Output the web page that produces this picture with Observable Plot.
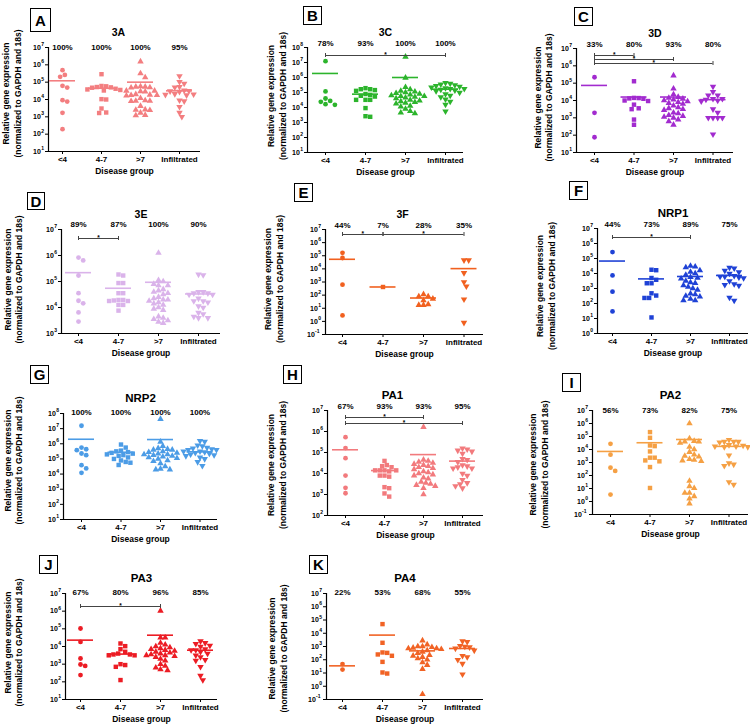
<!DOCTYPE html>
<html><head><meta charset="utf-8">
<script src="https://cdn.jsdelivr.net/npm/d3@7"></script>
<script src="https://cdn.jsdelivr.net/npm/@observablehq/plot@0.6"></script>
<style>
body{margin:0;background:#fff;}
#root{position:relative;width:750px;height:724px;overflow:hidden;font-family:"Liberation Sans",Arial,sans-serif;background:#fff;}
.panel{position:absolute;}
.panel svg{overflow:visible;}
.tag{position:absolute;border:1.3px solid #000;font:bold 15px "Liberation Sans",Arial,sans-serif;display:flex;align-items:center;justify-content:center;box-sizing:border-box;color:#000;background:#fff;}
</style></head><body><div id="root"></div>
<script>
// ---------- shared labels ----------
const CATS = ["<4", "4-7", ">7", "Infiltrated"];
const Y_LABEL = "Relative gene expression\n(normalized to GAPDH and 18s)";
const X_LABEL = "Disease group";

// ---------- data (log10 of relative expression) ----------
// A — 3A
const a_lt4 = [5.69, 5.42, 5.31, 4.79, 4.69, 3.96, 3.88, 3.23, 2.29];
const a_4to7 = [5.46, 4.78, 4.76, 4.72, 4.70, 4.68, 4.62, 4.58, 4.55, 4.52, 4.02, 4.00, 3.48, 3.25, 3.22];
const a_gt7 = [6.19, 5.5, 5.27, 4.75, 4.73, 4.73, 4.70, 4.68, 4.5, 4.5, 4.47, 4.45, 4.3, 4.27, 4.25, 4.25, 4.22, 4.08, 3.95, 3.92, 3.92, 3.9, 3.62, 3.42, 3.4, 3.38, 3.23, 3.1, 3.08];
const a_inf = [5.35, 5.02, 4.92, 4.73, 4.70, 4.52, 4.5, 4.48, 4.45, 4.32, 4.3, 4.28, 4.25, 3.95, 3.9, 3.58, 3.25, 3.0];
const a_mean = [5.08, 4.65, 5.0, 4.5];
const a_pct = ["100%", "100%", "100%", "95%"];
const a_sig = [];

// B — 3C
const b_lt4 = [7.09, 5.07, 4.6, 4.44, 4.38, 4.22, 4.18];
const b_4to7 = [5.29, 5.22, 5.22, 5.16, 5.11, 4.9, 4.84, 4.78, 4.73, 4.51, 4.51, 4.51, 3.96, 3.42, 3.38];
const b_gt7 = [7.38, 5.98, 5.35, 5.2, 5.1, 5.05, 5.0, 4.95, 4.9, 4.85, 4.8, 4.75, 4.75, 4.7, 4.65, 4.6, 4.5, 4.45, 4.4, 4.35, 4.3, 4.25, 4.1, 4.05, 3.9, 3.75, 3.65, 3.6];
const b_inf = [5.65, 5.6, 5.55, 5.5, 5.45, 5.4, 5.35, 5.3, 5.25, 5.25, 5.2, 5.15, 5.1, 5.0, 4.9, 4.8, 4.7, 4.55, 4.4, 4.2, 3.75];
const b_mean = [6.27, 4.89, 6.0, 5.22];
const b_pct = ["78%", "93%", "100%", "100%"];
const b_sig = [[0, 3, 0]];

// C — 3D
const c_lt4 = [5.34, 3.29, 1.88];
const c_4to7 = [5.11, 4.15, 4.14, 4.12, 4.10, 4.0, 3.97, 3.76, 3.55, 3.5, 2.9, 2.6];
const c_gt7 = [5.44, 4.68, 4.35, 4.2, 4.15, 4.1, 4.05, 4.0, 3.95, 3.9, 3.85, 3.8, 3.7, 3.6, 3.55, 3.5, 3.45, 3.3, 3.25, 3.15, 3.1, 3.05, 3.0, 2.9, 2.8, 2.6];
const c_inf = [4.8, 4.5, 4.3, 4.3, 4.1, 4.1, 4.05, 4.0, 3.95, 3.5, 3.3, 3.0, 3.0, 3.0, 3.0, 2.05];
const c_mean = [4.87, 4.2, 4.2, 4.05];
const c_pct = ["33%", "80%", "93%", "80%"];
const c_sig = [[0, 1, 0], [0, 2, 1], [0, 3, 2]];

// D — 3E
const d_lt4 = [5.92, 5.81, 5.23, 4.55, 4.26, 4.16, 3.81, 3.46];
const d_4to7 = [5.27, 5.23, 4.94, 4.94, 4.55, 4.55, 4.29, 4.27, 4.25, 4.25, 4.29, 4.1, 4.1, 3.88];
const d_gt7 = [6.1, 5.05, 5.0, 4.9, 4.85, 4.85, 4.7, 4.65, 4.6, 4.55, 4.5, 4.4, 4.35, 4.3, 4.3, 4.25, 4.2, 4.15, 4.1, 4.0, 3.95, 3.9, 3.65, 3.6, 3.55, 3.5, 3.45, 3.4];
const d_inf = [5.27, 5.25, 4.6, 4.6, 4.55, 4.55, 4.5, 4.5, 4.35, 4.25, 4.25, 4.2, 4.05, 4.0, 3.8, 3.75, 3.65, 3.6, 3.6];
const d_mean = [5.34, 4.74, 4.97, 4.52];
const d_pct = ["89%", "87%", "100%", "90%"];
const d_sig = [[0, 1, 0]];

// E — 3F
const e_lt4 = [5.22, 4.83, 2.8, 0.45];
const e_4to7 = [2.62];
const e_gt7 = [2.06, 1.9, 1.9, 1.72, 1.6, 1.3, 1.24, 1.24];
const e_inf = [4.66, 4.66, 3.69, 3.0, 2.67, 1.68, -0.1];
const e_mean = [4.73, 2.62, 1.78, 4.02];
const e_pct = ["44%", "7%", "28%", "35%"];
const e_sig = [[0, 1, 0], [1, 3, 0]];

// F — NRP1
const f_lt4 = [5.43, 3.87, 2.79, 1.47];
const f_4to7 = [4.25, 4.22, 3.7, 3.58, 3.35, 3.35, 2.68, 2.53, 2.37, 2.37, 1.07];
const f_gt7 = [4.5, 4.45, 4.4, 4.2, 4.1, 4.0, 3.9, 3.75, 3.7, 3.65, 3.5, 3.4, 3.35, 3.2, 3.1, 3.0, 2.9, 2.65, 2.6, 2.5, 2.45, 2.3, 2.2, 2.2];
const f_inf = [4.4, 4.35, 4.2, 4.1, 4.0, 3.85, 3.8, 3.8, 3.75, 3.7, 3.5, 3.3, 3.25, 3.2, 2.4, 2.2];
const f_mean = [4.83, 3.64, 3.8, 3.87];
const f_pct = ["44%", "73%", "89%", "75%"];
const f_sig = [[0, 2, 0]];

// G — NRP2
const g_lt4 = [7.19, 5.75, 5.64, 5.58, 5.36, 5.25, 4.59, 4.37, 4.08];
const g_4to7 = [5.95, 5.75, 5.55, 5.5, 5.45, 5.4, 5.35, 5.3, 5.25, 5.2, 5.1, 5.0, 4.9, 4.8, 4.75, 4.6];
const g_gt7 = [7.63, 6.13, 5.85, 5.7, 5.65, 5.6, 5.6, 5.5, 5.45, 5.4, 5.35, 5.3, 5.3, 5.25, 5.2, 5.15, 5.1, 5.05, 5.0, 4.9, 4.85, 4.7, 4.5, 4.35, 4.3, 4.3];
const g_inf = [6.2, 6.15, 5.9, 5.85, 5.75, 5.7, 5.65, 5.6, 5.6, 5.5, 5.5, 5.45, 5.4, 5.35, 5.3, 5.25, 5.2, 5.1, 5.0, 4.8, 4.55];
const g_mean = [6.3, 5.44, 6.28, 5.47];
const g_pct = ["100%", "100%", "100%", "100%"];
const g_sig = [];

// H — PA1
const h_lt4 = [5.73, 5.21, 4.73, 3.9, 3.32, 3.06];
const h_4to7 = [4.6, 4.4, 4.35, 4.3, 4.15, 4.15, 4.15, 4.15, 4.1, 3.9, 3.9, 3.85, 3.35, 3.3, 3.05, 2.9];
const h_gt7 = [6.21, 4.65, 4.6, 4.55, 4.5, 4.45, 4.4, 4.35, 4.3, 4.25, 4.2, 4.1, 4.05, 4.0, 3.95, 3.9, 3.8, 3.75, 3.6, 3.55, 3.5, 3.45, 3.4, 3.3, 3.0];
const h_inf = [5.2, 5.15, 5.1, 5.05, 4.95, 4.7, 4.65, 4.55, 4.4, 4.35, 4.3, 4.25, 4.25, 4.0, 3.9, 3.7, 3.55, 3.5, 3.4, 3.3];
const h_mean = [5.13, 4.14, 4.9, 4.59];
const h_pct = ["67%", "93%", "93%", "95%"];
const h_sig = [[0, 2, 0], [0, 3, 1]];

// I — PA2
const i_lt4 = [4.44, 3.6, 2.6, 2.35, 0.53];
const i_4to7 = [5.34, 4.9, 4.31, 4.26, 3.85, 3.37, 3.37, 3.16, 3.09, 2.65, 1.04];
const i_gt7 = [6.0, 4.85, 4.65, 4.6, 4.6, 4.5, 4.2, 4.0, 3.8, 3.6, 3.5, 3.45, 3.25, 3.2, 3.15, 3.1, 1.58, 1.17, 1.02, 0.66, 0.66, 0.4, 0.22, -0.16];
const i_inf = [4.75, 4.6, 4.6, 4.6, 4.55, 4.35, 4.3, 4.25, 4.25, 4.2, 4.2, 3.55, 2.95, 2.85, 2.75, 1.5, 1.3];
const i_mean = [3.85, 4.52, 4.77, 4.24];
const i_pct = ["56%", "73%", "82%", "75%"];
const i_sig = [];

// J — PA3
const j_lt4 = [5.02, 4.26, 3.32, 2.98, 2.9, 2.38];
const j_4to7 = [4.17, 4.02, 3.85, 3.7, 3.6, 3.55, 3.55, 3.5, 3.5, 3.0, 2.95, 2.85, 2.1];
const j_gt7 = [6.02, 4.5, 4.5, 4.2, 4.1, 4.0, 3.95, 3.9, 3.85, 3.8, 3.75, 3.7, 3.65, 3.6, 3.55, 3.5, 3.5, 3.45, 3.4, 3.3, 3.2, 3.0, 2.9, 2.8, 2.7, 2.65];
const j_inf = [4.3, 4.2, 4.15, 4.05, 4.0, 3.85, 3.8, 3.8, 3.7, 3.6, 3.5, 3.4, 3.25, 3.2, 2.85, 2.35, 2.1];
const j_mean = [4.36, 3.57, 4.64, 3.79];
const j_pct = ["67%", "80%", "96%", "85%"];
const j_sig = [[0, 2, 0]];

// K — PA4
const k_lt4 = [1.67, 1.26];
const k_4to7 = [4.69, 3.28, 2.55, 2.52, 2.4, 2.3, 1.84, 1.04, 0.96];
const k_gt7 = [3.45, 3.15, 3.0, 3.0, 2.95, 2.9, 2.85, 2.85, 2.8, 2.7, 2.6, 2.5, 2.35, 2.3, 2.2, 2.1, 2.0, 1.8, 1.6, 1.3, -0.6];
const k_inf = [3.4, 3.35, 3.05, 3.0, 2.95, 2.85, 2.7, 2.3, 2.2, 2.0, 1.7, 0.9];
const k_mean = [1.54, 3.86, 2.67, 2.85];
const k_pct = ["22%", "53%", "68%", "55%"];
const k_sig = [];

// ---------- layout ----------
const PANELS = [
  {tag:"A", tagBox:[30,8,21,24], title:"3A", titleSize:10.5, titleDx:-6, color:"#f37e80", left:0, top:0, axisX:48, xEnd:200, yTop:47, yBot:151, c0:62, step:39, lo:1, hi:7, pctDy:0, ylabX:11, ylabDy:-6, brTop:8, brGap:4,
   groups:[a_lt4,a_4to7,a_gt7,a_inf], means:a_mean, pct:a_pct, sig:a_sig},
  {tag:"B", tagBox:[303,6,19,19], title:"3C", titleSize:10.5, titleDx:0, color:"#2cb42c", left:250, top:0, axisX:307, xEnd:463, yTop:47, yBot:152, c0:325, step:40, lo:1, hi:8, pctDy:-4, ylabX:276, ylabDy:-4, brTop:8, brGap:4,
   groups:[b_lt4,b_4to7,b_gt7,b_inf], means:b_mean, pct:b_pct, sig:b_sig},
  {tag:"C", tagBox:[574,7,19,19], title:"3D", titleSize:10.5, titleDx:0, color:"#a22bcf", left:500, top:0, axisX:576, xEnd:733, yTop:48, yBot:152, c0:594, step:39.5, lo:1, hi:7, pctDy:-4, ylabX:542.5, ylabDy:-3, brTop:7, brGap:4,
   groups:[c_lt4,c_4to7,c_gt7,c_inf], means:c_mean, pct:c_pct, sig:c_sig},
  {tag:"D", tagBox:[27,192,18,18], title:"3E", titleSize:10.5, titleDx:0, color:"#dab3ea", left:0, top:180, axisX:61, xEnd:220, yTop:229, yBot:333, c0:78, step:40, lo:3, hi:7, pctDy:-5, ylabX:12.5, ylabDy:-2, brTop:9, brGap:4,
   groups:[d_lt4,d_4to7,d_gt7,d_inf], means:d_mean, pct:d_pct, sig:d_sig},
  {tag:"E", tagBox:[294,183,19,19], title:"3F", titleSize:10.5, titleDx:-2, color:"#f1601f", left:250, top:180, axisX:325, xEnd:483, yTop:229, yBot:334, c0:342, step:40.5, lo:-1, hi:7, pctDy:-4, ylabX:273, ylabDy:-3, brTop:5, brGap:4,
   groups:[e_lt4,e_4to7,e_gt7,e_inf], means:e_mean, pct:e_pct, sig:e_sig},
  {tag:"F", tagBox:[569,181,19,19], title:"NRP1", titleSize:11.5, titleDx:0, color:"#1f42d6", left:500, top:180, axisX:597, xEnd:748, yTop:228, yBot:333, c0:612, step:39, lo:0, hi:7, pctDy:-4, ylabX:545, ylabDy:5, brTop:9, brGap:4,
   groups:[f_lt4,f_4to7,f_gt7,f_inf], means:f_mean, pct:f_pct, sig:f_sig},
  {tag:"G", tagBox:[30,365,19,19], title:"NRP2", titleSize:11.5, titleDx:0, color:"#4c9ce6", left:0, top:360, axisX:63, xEnd:217, yTop:413, yBot:519, c0:81, step:39.5, lo:1, hi:8, pctDy:-1, ylabX:12.5, ylabDy:-6, brTop:8, brGap:4,
   groups:[g_lt4,g_4to7,g_gt7,g_inf], means:g_mean, pct:g_pct, sig:g_sig},
  {tag:"H", tagBox:[283,365,19,19], title:"PA1", titleSize:11.5, titleDx:-13, color:"#f27a7d", left:250, top:360, axisX:327, xEnd:483, yTop:410, yBot:515, c0:345, step:39, lo:2, hi:7, pctDy:-4, ylabX:276, ylabDy:2, brTop:7, brGap:6,
   groups:[h_lt4,h_4to7,h_gt7,h_inf], means:h_mean, pct:h_pct, sig:h_sig},
  {tag:"I", tagBox:[562,373,19,19], title:"PA2", titleSize:11.5, titleDx:0, color:"#f5a044", left:500, top:360, axisX:592, xEnd:748, yTop:410, yBot:514, c0:610, step:39.5, lo:-1, hi:7, pctDy:0, ylabX:538, ylabDy:2, brTop:8, brGap:4,
   groups:[i_lt4,i_4to7,i_gt7,i_inf], means:i_mean, pct:i_pct, sig:i_sig},
  {tag:"J", tagBox:[39,555,19,19], title:"PA3", titleSize:11.5, titleDx:0, color:"#ec1c24", left:0, top:540, axisX:65, xEnd:217, yTop:593, yBot:699, c0:80, step:40, lo:1, hi:7, pctDy:-1, ylabX:12.5, ylabDy:-4, brTop:13, brGap:4,
   groups:[j_lt4,j_4to7,j_gt7,j_inf], means:j_mean, pct:j_pct, sig:j_sig},
  {tag:"K", tagBox:[309,555,19,19], title:"PA4", titleSize:11.5, titleDx:0, color:"#f16325", left:250, top:540, axisX:326, xEnd:483, yTop:593, yBot:699, c0:342, step:40, lo:-1, hi:7, pctDy:-1, ylabX:277, ylabDy:2, brTop:8, brGap:4,
   groups:[k_lt4,k_4to7,k_gt7,k_inf], means:k_mean, pct:k_pct, sig:k_sig}
];

// ---------- helpers ----------
const TRI_DOWN = {
  draw(ctx, size) {
    const s3 = Math.sqrt(3);
    const y = -Math.sqrt(size / (s3 * 3));
    ctx.moveTo(0, -y * 2);
    ctx.lineTo(-s3 * y, y);
    ctx.lineTo(s3 * y, y);
    ctx.closePath();
  }
};
// simple beeswarm: horizontal pixel offsets so markers don't overlap
function swarm(vals, ppd, hi, D) {
  const items = vals.map(v => ({v, py: (hi - v) * ppd, ox: 0}));
  const order = items.slice().sort((a, b) => a.py - b.py);
  const placed = [];
  for (const it of order) {
    for (let k = 0; k < 60; k++) {
      const mag = Math.ceil(k / 2) * D / 2;
      const off = k % 2 ? mag : -mag;
      if (placed.every(p => (p.ox - off) ** 2 + (p.py - it.py) ** 2 >= D * D)) { it.ox = off; break; }
    }
    placed.push(it);
  }
  return items;
}

const root = document.getElementById("root");
const SYMBOLS = ["circle", "square", "triangle", TRI_DOWN];
const RADII = [2.4, 2.5, 2.4, 2.4];
const EXP_W = 3.1; // approx width per exponent character (px)

for (const P of PANELS) {
  const W = 250, H = 180;
  const mL = P.axisX - P.left, mR = P.left + W - P.xEnd, mT = P.yTop - P.top, mB = P.top + H - P.yBot;
  const d0 = -(P.c0 - P.axisX) / P.step;
  const d1 = 3 + (P.xEnd - (P.c0 + 3 * P.step)) / P.step;
  const ppd = (P.yBot - P.yTop) / (P.hi - P.lo);
  const lvl = o => 10 ** (P.hi - o / ppd);
  const D = 4.7;
  const dotMarks = P.groups.map((vals, gi) => {
    const pts = swarm(vals, ppd, P.hi, D).map(p => ({x: gi + p.ox / P.step, y: 10 ** p.v}));
    return Plot.dot(pts, {x: "x", y: "y", symbol: SYMBOLS[gi], r: RADII[gi], fill: P.color, stroke: "none"});
  });
  const hw = 13 / P.step;
  const means = P.means.map((m, i) => ({i, y: 10 ** m}));
  const sig = P.sig.map(([a, b, row]) => ({a, b, o: P.brTop + row * P.brGap}));
  const caps = sig.flatMap(s => [{x: s.a, o: s.o}, {x: s.b, o: s.o}]);
  const exps = d3.range(P.lo, P.hi + 1);
  const ticks = exps.map(e => 10 ** e);
  // y tick labels as "10" + raised exponent, grouped by exponent length
  const tickLabelMarks = [1, 2].flatMap(len => {
    const es = exps.filter(e => String(e).length === len);
    if (!es.length) return [];
    const ew = len * EXP_W;
    return [
      Plot.text(es, {y: e => 10 ** e, frameAnchor: "left", text: () => "10", textAnchor: "end", dx: -4.5 - ew, fontSize: 7}),
      Plot.text(es, {y: e => 10 ** e, frameAnchor: "left", text: e => String(e), textAnchor: "start", dx: -4.5 - ew + 0.3, dy: -3, fontSize: 5})
    ];
  });

  const svg = Plot.plot({
    width: W, height: H,
    marginLeft: mL, marginRight: mR, marginTop: mT, marginBottom: mB,
    x: {domain: [d0, d1], label: null},
    y: {type: "log", domain: [10 ** P.lo, 10 ** P.hi], label: null},
    style: {background: "transparent", overflow: "visible", fontFamily: '"Liberation Sans", Arial, sans-serif', fontWeight: "bold", fontSize: "8px", color: "#000"},
    marks: [
      Plot.axisY({ticks, tickFormat: () => "", tickSize: 3, label: null}),
      ...tickLabelMarks,
      Plot.axisX({ticks: [0, 1, 2, 3], tickFormat: i => CATS[i], tickSize: 3, tickPadding: 2, fontSize: 8, label: null}),
      Plot.ruleX([d0], {stroke: "#000", strokeWidth: 1.2}),
      Plot.ruleY([10 ** P.lo], {stroke: "#000", strokeWidth: 1.2}),
      ...dotMarks,
      Plot.ruleY(means, {x1: d => d.i - hw, x2: d => d.i + hw, y: "y", stroke: P.color, strokeWidth: 1.6}),
      Plot.text(P.pct.map((t, i) => ({i, t})), {x: "i", text: "t", frameAnchor: "top", lineAnchor: "middle", dy: P.pctDy, fontSize: 8}),
      Plot.text([P.title], {frameAnchor: "top", lineAnchor: "middle", dx: P.titleDx, dy: -15, fontSize: P.titleSize}),
      Plot.text([Y_LABEL], {frameAnchor: "left", textAnchor: "middle", lineAnchor: "middle", rotate: -90, dx: P.ylabX - P.axisX, dy: P.ylabDy, fontSize: 8.5, lineHeight: 1.35}),
      Plot.text([X_LABEL], {frameAnchor: "bottom", lineAnchor: "middle", dy: 20, fontSize: 8.5}),
      Plot.ruleY(sig, {x1: "a", x2: "b", y: d => lvl(d.o), stroke: "#444", strokeWidth: 1}),
      Plot.ruleX(caps, {x: "x", y1: d => lvl(d.o - 2), y2: d => lvl(d.o + 2), stroke: "#444", strokeWidth: 1}),
      Plot.text(sig, {x: d => (d.a + d.b) / 2, y: d => lvl(d.o), text: () => "*", dy: -1, fontSize: 6.5})
    ]
  });
  const div = document.createElement("div");
  div.className = "panel";
  div.style.left = P.left + "px";
  div.style.top = P.top + "px";
  div.appendChild(svg);
  root.appendChild(div);

  const t = document.createElement("div");
  t.className = "tag";
  const [tx, ty, tw, th] = P.tagBox;
  t.style.left = tx + "px"; t.style.top = ty + "px"; t.style.width = tw + "px"; t.style.height = th + "px";
  t.textContent = P.tag;
  root.appendChild(t);
}
</script></body></html>
